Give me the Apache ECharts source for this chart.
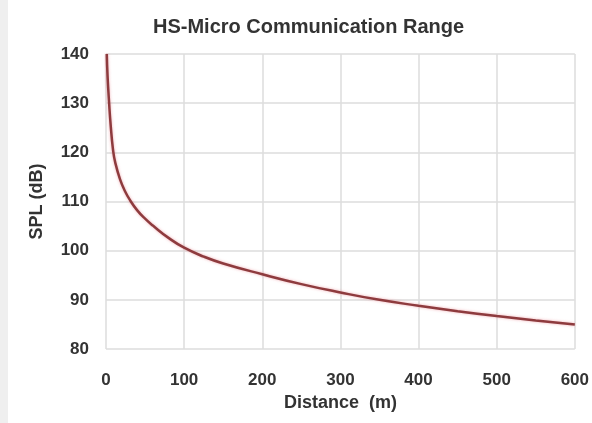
<!DOCTYPE html>
<html>
<head>
<meta charset="utf-8">
<script src="https://cdn.jsdelivr.net/npm/echarts@6/dist/echarts.min.js"></script>
<style>
html,body{margin:0;padding:0;background:#fff;}
#chart{width:592px;height:423px;}
</style>
</head>
<body>
<div id="chart"></div>
<script>
// distance (m) and SPL (dB)
var distance = [1, 2, 4, 6, 9, 12, 18, 24, 31, 40, 50, 60, 80, 100, 125, 150, 200, 250, 300, 350, 400, 450, 500, 550, 600];
var spl = [140, 135.5, 130, 125.5, 120.5, 117.8, 114.5, 112.2, 110.2, 108.2, 106.5, 105.1, 102.6, 100.6, 98.8, 97.4, 95.2, 93.2, 91.5, 90, 88.8, 87.7, 86.7, 85.8, 85];

var chart = echarts.init(document.getElementById('chart'));

var fontFam = 'Liberation Sans, Arial';

var option = {
    backgroundColor: '#fff',
    animation: false,
    title: {
        text: 'HS-Micro Communication Range',
        left: 148,
        top: 12,
        textStyle: {
            fontFamily: fontFam,
            fontSize: 20,
            fontWeight: 'bold',
            color: '#333'
        }
    },
    graphic: [
        {
            type: 'rect',
            shape: { x: 0, y: 0, width: 8, height: 423 },
            style: { fill: '#efefef' },
            silent: true
        }
    ],
    grid: {
        left: 106,
        right: 16,
        top: 54,
        bottom: 74
    },
    xAxis: {
        type: 'value',
        min: 0,
        max: 600,
        interval: 100,
        name: 'Distance  (m)',
        nameLocation: 'middle',
        nameGap: 45,
        nameTextStyle: {
            fontFamily: fontFam,
            fontSize: 18,
            fontWeight: 'bold',
            color: '#333'
        },
        axisLine: { show: false },
        axisTick: { show: false },
        axisLabel: {
            margin: 23,
            fontFamily: fontFam,
            fontSize: 17,
            fontWeight: 'bold',
            color: '#333'
        },
        splitLine: { lineStyle: { color: '#dcdcdc', width: 1.5 } }
    },
    yAxis: {
        type: 'value',
        min: 80,
        max: 140,
        interval: 10,
        name: 'SPL (dB)',
        nameLocation: 'middle',
        nameGap: 60,
        nameTextStyle: {
            fontFamily: fontFam,
            fontSize: 18,
            fontWeight: 'bold',
            color: '#333'
        },
        axisLine: { show: false },
        axisTick: { show: false },
        axisLabel: {
            margin: 17,
            fontFamily: fontFam,
            fontSize: 17,
            fontWeight: 'bold',
            color: '#333'
        },
        splitLine: { lineStyle: { color: '#dcdcdc', width: 1.5 } }
    },
    series: [
        {
            type: 'line',
            data: distance.map(function (d, i) { return [d, spl[i]]; }),
            smooth: true,
            showSymbol: false,
            lineStyle: {
                color: '#8e3b3e',
                width: 2.5,
                shadowColor: 'rgba(230,120,130,0.6)',
                shadowBlur: 3
            }
        }
    ]
};

chart.setOption(option);
</script>
</body>
</html>
